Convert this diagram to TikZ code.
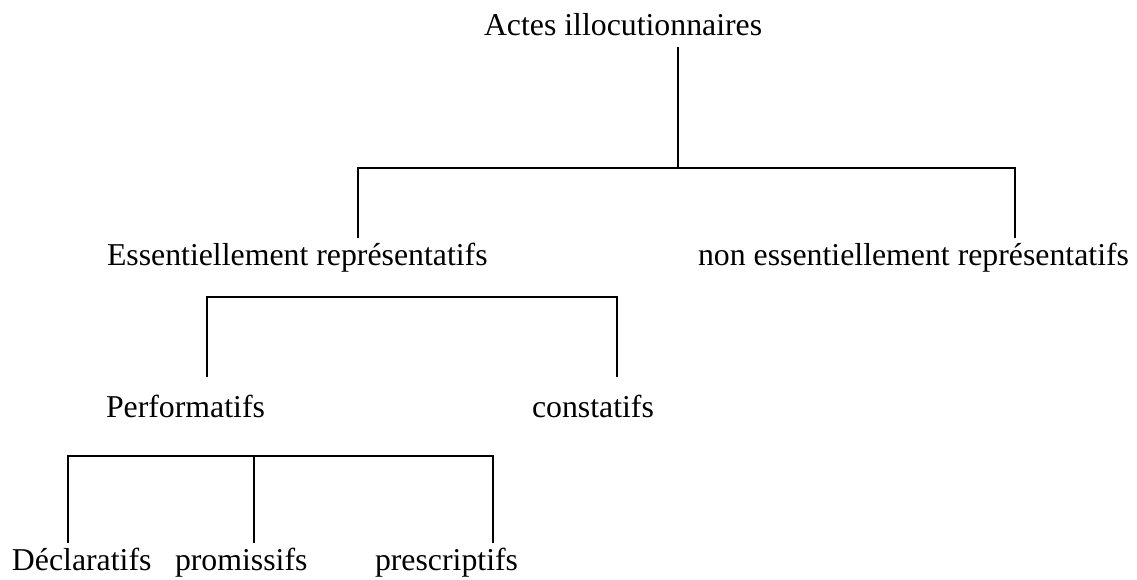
\documentclass[tikz,border=0pt]{standalone}
\usepackage{fontspec}
\setmainfont{Liberation Serif}
\begin{document}
\begin{tikzpicture}[x=1pt,y=-1pt,
  lbl/.style={inner sep=0pt,outer sep=0pt,font=\fontsize{31.8}{38}\selectfont},
  tree/.style={line width=1.6pt,line cap=rect}]
\useasboundingbox (0,0) rectangle (1137,579);
% labels
\node[lbl,anchor=base west] (actes) at (484,35) {Actes illocutionnaires};
\node[lbl,anchor=base west] (ess) at (107,265) {Essentiellement représentatifs};
\node[lbl,anchor=base east] (noness) at (1129,265) {non essentiellement représentatifs};
\node[lbl,anchor=base west] (perf) at (106,417) {Performatifs};
\node[lbl,anchor=base west] (const) at (532,417) {constatifs};
\node[lbl,anchor=base west] (decl) at (12,570) {Déclaratifs};
\node[lbl,anchor=base west] (prom) at (175,570) {promissifs};
\node[lbl,anchor=base west] (presc) at (375,570) {prescriptifs};
% junction points
\coordinate (a0) at (678,48);
\coordinate (a1) at (678,168);
\coordinate (e1) at (358,237);
\coordinate (n1) at (1015,237);
\coordinate (b0) at (412,297);
\coordinate (p1) at (207,376);
\coordinate (c1) at (617,376);
\coordinate (d0) at (254,456);
\coordinate (d1) at (68,542);
\coordinate (d2) at (254,542);
\coordinate (d3) at (493,542);
% connectors
\draw[tree] (a0) -- (a1);
\draw[tree] (e1) |- (a1) -| (n1);
\draw[tree] (p1) |- (b0) -| (c1);
\draw[tree] (d1) |- (d0) -| (d3);
\draw[tree] (d0) -- (d2);
\end{tikzpicture}
\end{document}
